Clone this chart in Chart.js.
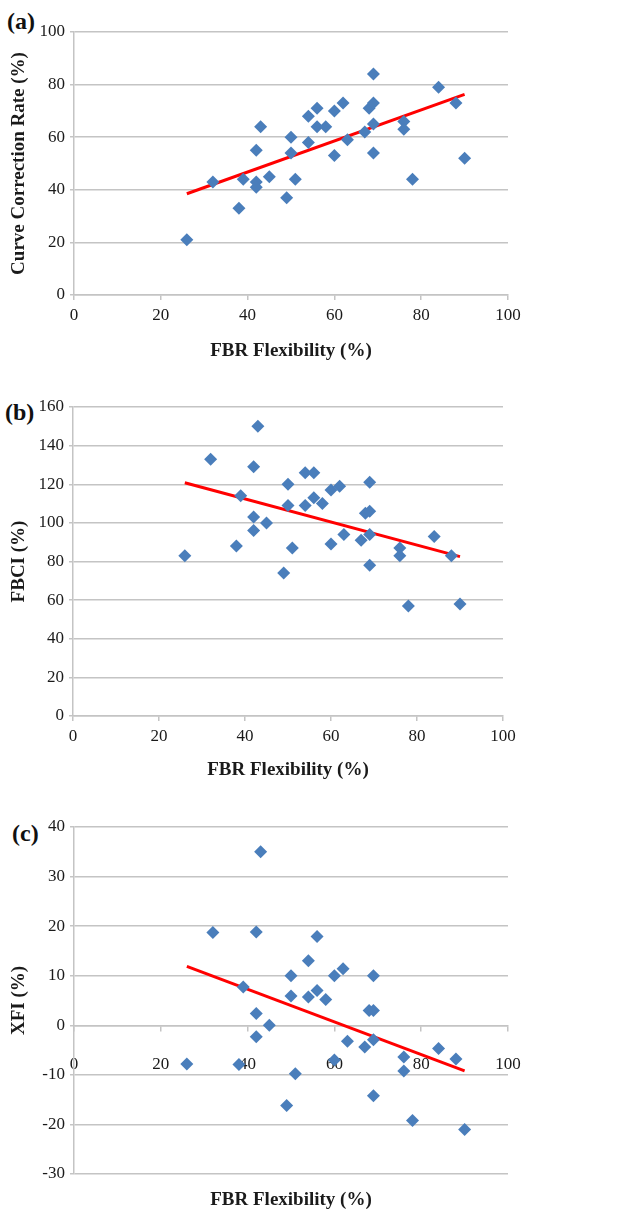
<!DOCTYPE html>
<html lang="en">
<head>
    <meta charset="UTF-8">
    <title>FBR Flexibility scatter plots</title>
    <script src="https://cdn.jsdelivr.net/npm/chart.js"></script>
    <style>
        body {
            margin: 0;
            width: 631px;
            height: 1211px;
            background: white;
            position: relative;
            overflow: hidden;
        }
        .panel {
            position: absolute;
            left: 0;
            width: 631px;
        }
        .tag {
            position: absolute;
            font-family: "Liberation Serif", "Times New Roman", serif;
            font-weight: bold;
            font-size: 24px;
            line-height: 24px;
            color: #111;
        }
    </style>
</head>
<body>
    <div class="tag" style="left:7px; top:9px;">(a)</div>
    <div class="tag" style="left:5px; top:400px;">(b)</div>
    <div class="tag" style="left:12px; top:821px;">(c)</div>

    <div class="panel" style="top:0; height:362px;"><canvas id="chartA"></canvas></div>
    <div class="panel" style="top:380px; height:401px;"><canvas id="chartB"></canvas></div>
    <div class="panel" style="top:800px; height:411px;"><canvas id="chartC"></canvas></div>

    <script>
        // FBR flexibility (%) for each patient, x of every panel
        const fbr = [26, 32, 38, 39, 42, 42, 42, 43, 45, 49, 50, 50, 51, 54, 54, 56, 56,
                     58, 60, 60, 62, 63, 67, 68, 69, 69, 69, 69, 76, 76, 78, 84, 88, 90];
        // (a) curve correction rate (%)
        const ccr = [21, 43, 33, 44, 55, 43, 41, 64, 45, 37, 60, 54, 44, 68, 58, 71, 64,
                     64, 70, 53, 73, 59, 62, 71, 84, 73, 65, 54, 66, 63, 44, 79, 73, 52];
        // (b) FBCI (%)
        const fbci = [83, 133, 88, 114, 129, 103, 96, 150, 100, 74, 120, 109, 87, 126, 109, 126, 113,
                      110, 117, 89, 119, 94, 91, 105, 121, 106, 94, 78, 87, 83, 57, 93, 83, 58];
        // (c) XFI (%)
        const xfi = [-7.8, 18.7, -7.9, 7.7, 18.8, 2.4, -2.3, 35, 0, -16.2, 10, 5.9, -9.8, 13, 5.7, 17.9, 7,
                     5.2, 10, -7, 11.4, -3.2, -4.4, 3, 10, 3, -2.9, -14.2, -6.4, -9.2, -19.2, -4.7, -6.8, -21];

        // linear trend lines (end points)
        const trendX = [26, 90];
        const ccrTrend = [38.5, 76.3];
        const fbciTrend = [120.8, 82.5];
        const xfiTrend = [11.9, -9.2];

        const xTicks = [0, 20, 40, 60, 80, 100];

        const serif = '"Liberation Serif", "Times New Roman", serif';
        const gridColor = '#c4c4c4';
        const textColor = '#1a1a1a';

        function points(xs, ys) {
            return xs.map((x, i) => ({ x: x, y: ys[i] }));
        }

        function makePanel(id, yData, trendY, yTitle, yMin, yMax, yStep, box) {
            const ctx = document.getElementById(id).getContext('2d');
            const crossAtZero = box.crossAtZero;

            const scales = {
                x: {
                    type: 'linear',
                    position: crossAtZero ? { y: 0 } : 'bottom',
                    min: 0,
                    max: 100,
                    afterBuildTicks: (s) => { s.ticks = xTicks.map(v => ({ value: v })); },
                    grid: { drawOnChartArea: false, drawTicks: true, tickLength: 5, color: gridColor, lineWidth: 1.5 },
                    border: { color: gridColor, width: 1.5 },
                    ticks: { color: textColor, padding: box.xTickPad, font: { family: serif, size: 17 } },
                    title: {
                        display: !crossAtZero,
                        text: 'FBR Flexibility (%)',
                        color: textColor,
                        padding: { top: 0, bottom: 0 },
                        font: { family: serif, size: 19, weight: 'bold' }
                    },
                    afterFit: (s) => { if (!crossAtZero) s.height = box.xHeight; }
                },
                y: {
                    type: 'linear',
                    min: yMin,
                    max: yMax,
                    ticks: { stepSize: yStep, color: textColor, padding: 5, font: { family: serif, size: 17 } },
                    grid: { color: gridColor, lineWidth: 1.5, drawTicks: true, tickLength: 4 },
                    border: { color: gridColor, width: 1.5 },
                    title: {
                        display: true,
                        text: yTitle,
                        color: textColor,
                        padding: { top: 8, bottom: 0 },
                        font: { family: serif, size: 19, weight: 'bold' }
                    },
                    afterFit: (s) => { s.width = box.yWidth; }
                }
            };

            if (crossAtZero) {
                // empty bottom axis that only carries the title
                scales.x2 = {
                    type: 'linear',
                    position: 'bottom',
                    min: 0,
                    max: 100,
                    grid: { display: false },
                    border: { display: false },
                    ticks: { display: false },
                    title: {
                        display: true,
                        text: 'FBR Flexibility (%)',
                        color: textColor,
                        padding: { top: 0, bottom: 0 },
                        font: { family: serif, size: 19, weight: 'bold' }
                    },
                    afterFit: (s) => { s.height = box.xHeight; }
                };
            }

            return new Chart(ctx, {
                type: 'scatter',
                data: {
                    datasets: [
                        {
                            label: 'patients',
                            data: points(fbr, yData),
                            pointStyle: 'rectRot',
                            pointRadius: 6.5,
                            pointHoverRadius: 6.5,
                            backgroundColor: '#4a7ebb',
                            borderColor: '#4a7ebb',
                            borderWidth: 0
                        },
                        {
                            label: 'trend',
                            data: points(trendX, trendY),
                            showLine: true,
                            pointRadius: 0,
                            borderColor: '#ff0000',
                            borderWidth: 3,
                            fill: false
                        }
                    ]
                },
                options: {
                    responsive: true,
                    maintainAspectRatio: false,
                    animation: false,
                    layout: { padding: { top: box.top, right: box.right, left: 0, bottom: 0 } },
                    plugins: {
                        legend: { display: false },
                        tooltip: { enabled: false }
                    },
                    scales: scales
                }
            });
        }

        makePanel('chartA', ccr, ccrTrend, 'Curve Correction Rate (%)', 0, 100, 20,
            { top: 32, right: 123, yWidth: 74, xHeight: 362 - 295, xTickPad: 5 });
        makePanel('chartB', fbci, fbciTrend, 'FBCI (%)', 0, 160, 20,
            { top: 27, right: 128, yWidth: 73, xHeight: 401 - 336, xTickPad: 5 });
        makePanel('chartC', xfi, xfiTrend, 'XFI (%)', -30, 40, 10,
            { top: 27, right: 123, yWidth: 74, xHeight: 411 - 374, xTickPad: 24, crossAtZero: true });
    </script>
</body>
</html>
